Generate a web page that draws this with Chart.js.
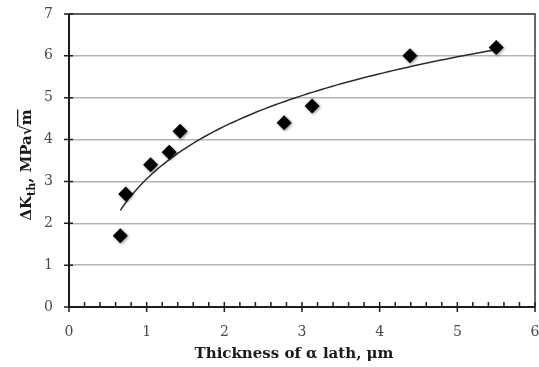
<!DOCTYPE html>
<html>
<head>
<meta charset="utf-8">
<script src="https://cdn.jsdelivr.net/npm/chart.js@4.4.0/dist/chart.umd.min.js"></script>
<style>
  html, body { margin: 0; padding: 0; background: #fff; }
  #wrap { width: 539px; height: 367px; }
</style>
</head>
<body>
<div id="wrap"><canvas id="c" width="539" height="367"></canvas></div>
<script>
// Measured threshold values against alpha lath thickness
const thicknessUm = [0.66, 0.73, 1.05, 1.29, 1.43, 2.77, 3.13, 4.39, 5.50];
const deltaKth    = [1.7, 2.7, 3.4, 3.7, 4.2, 4.4, 4.8, 6.0, 6.2];

const xTickLabels = ['0', '1', '2', '3', '4', '5', '6'];
const yTickLabels = ['0', '1', '2', '3', '4', '5', '6', '7'];

const xTitle = 'Thickness of \u03b1 lath, \u03bcm';

const SERIF = '"DejaVu Serif", "Liberation Serif", serif';

// Logarithmic least-squares trendline: y = a ln(x) + b
function logFit(xs, ys) {
  const lx = xs.map(Math.log);
  const n = xs.length;
  const mx = lx.reduce((s, v) => s + v, 0) / n;
  const my = ys.reduce((s, v) => s + v, 0) / n;
  let sxy = 0, sxx = 0;
  for (let i = 0; i < n; i++) {
    sxy += (lx[i] - mx) * (ys[i] - my);
    sxx += (lx[i] - mx) * (lx[i] - mx);
  }
  const a = sxy / sxx;
  return { a, b: my - a * mx };
}
const fit = logFit(thicknessUm, deltaKth);
const xMin = Math.min(...thicknessUm), xMax = Math.max(...thicknessUm);
const trend = [];
for (let i = 0; i <= 80; i++) {
  const x = xMin + (xMax - xMin) * i / 80;
  trend.push({ x, y: fit.a * Math.log(x) + fit.b });
}

const points = thicknessUm.map((x, i) => ({ x, y: deltaKth[i] }));

// Frame, axis lines, tick marks and axis titles
const axisDecor = {
  id: 'axisDecor',
  beforeDatasetsDraw(chart) {
    const { ctx, chartArea: ca, scales } = chart;
    const xs = scales.x, ys = scales.y;
    ctx.save();
    // outer frame (top / right)
    ctx.strokeStyle = '#3a3a3a';
    ctx.lineWidth = 1.5;
    ctx.beginPath();
    ctx.moveTo(ca.left, ca.top);
    ctx.lineTo(ca.right, ca.top);
    ctx.lineTo(ca.right, ca.bottom);
    ctx.stroke();
    // axis lines
    ctx.strokeStyle = '#1e1e1e';
    ctx.lineWidth = 2;
    ctx.beginPath();
    ctx.moveTo(ca.left, ca.top);
    ctx.lineTo(ca.left, ca.bottom);
    ctx.lineTo(ca.right, ca.bottom);
    ctx.stroke();
    // x ticks: majors cross the axis, minors inside
    ctx.lineWidth = 1.5;
    ctx.beginPath();
    for (let k = 0; k <= 30; k++) {
      const px = xs.getPixelForValue(k * 0.2);
      if (k % 5 === 0) {
        ctx.moveTo(px, ca.bottom - 5);
        ctx.lineTo(px, ca.bottom + 5);
      } else {
        ctx.moveTo(px, ca.bottom - 5);
        ctx.lineTo(px, ca.bottom);
      }
    }
    // y ticks
    for (let v = 0; v <= 7; v++) {
      const py = ys.getPixelForValue(v);
      ctx.moveTo(ca.left - 5, py);
      ctx.lineTo(ca.left + 4, py);
    }
    ctx.stroke();
    ctx.restore();
  },
  afterDraw(chart) {
    const { ctx } = chart;
    ctx.save();
    ctx.fillStyle = '#1a1a1a';
    // x title
    ctx.font = 'bold 15px ' + SERIF;
    ctx.textAlign = 'center';
    ctx.textBaseline = 'alphabetic';
    ctx.fillText(xTitle, 294, 358);

    // y title: ΔK with subscript "th", then ", MPa√m" with overbar
    const big = 'bold 15px ' + SERIF;
    const small = 'bold 11px ' + SERIF;
    const parts = [
      { t: '\u0394K', f: big, dy: 0 },
      { t: 'th', f: small, dy: 4 },
      { t: ', MPa\u221a', f: big, dy: 0 },
      { t: 'm', f: big, dy: 0, bar: true }
    ];
    let total = 0;
    parts.forEach(p => { ctx.font = p.f; p.w = ctx.measureText(p.t).width; total += p.w; });
    ctx.translate(31, 165);
    ctx.rotate(-Math.PI / 2);
    let cx = -total / 2;
    ctx.textAlign = 'left';
    parts.forEach(p => {
      ctx.font = p.f;
      ctx.fillText(p.t, cx, p.dy);
      if (p.bar) {
        ctx.fillRect(cx - 1, -14, p.w + 1, 1.3);
      }
      cx += p.w;
    });
    ctx.restore();
  }
};

// Soft drop shadow under the diamond markers
const markerShadow = {
  id: 'markerShadow',
  beforeDatasetDraw(chart, args) {
    if (args.index !== 0) return;
    const ctx = chart.ctx;
    ctx.save();
    ctx.shadowColor = 'rgba(0,0,0,0.45)';
    ctx.shadowBlur = 3;
    ctx.shadowOffsetX = 1;
    ctx.shadowOffsetY = 1;
  },
  afterDatasetDraw(chart, args) {
    if (args.index !== 0) return;
    chart.ctx.restore();
  }
};

function noPad(scale) {
  scale.paddingTop = 0;
  scale.paddingBottom = 0;
  scale.paddingLeft = 0;
  scale.paddingRight = 0;
}

new Chart(document.getElementById('c'), {
  type: 'scatter',
  data: {
    datasets: [
      {
        label: 'data',
        data: points,
        pointStyle: 'rectRot',
        pointRadius: 7.5,
        pointHoverRadius: 7.5,
        backgroundColor: '#000',
        borderColor: '#000',
        borderWidth: 0,
        order: 1
      },
      {
        label: 'trend',
        type: 'line',
        data: trend,
        borderColor: '#2b2b2b',
        borderWidth: 1.5,
        pointRadius: 0,
        fill: false,
        tension: 0,
        order: 2
      }
    ]
  },
  options: {
    responsive: false,
    animation: false,
    events: [],
    layout: { autoPadding: false, padding: { top: 14, right: 4, left: 0, bottom: 0 } },
    plugins: { legend: { display: false }, tooltip: { enabled: false } },
    scales: {
      x: {
        type: 'linear',
        min: 0, max: 6,
        afterFit(scale) { scale.height = 60; noPad(scale); },
        grid: { display: true, drawOnChartArea: false, drawTicks: false, color: 'rgba(0,0,0,0)' },
        border: { display: false },
        ticks: {
          stepSize: 1,
          padding: 17,
          color: '#4a4a4a',
          font: { family: SERIF, size: 14 },
          callback: (v) => xTickLabels[v] ?? ''
        }
      },
      y: {
        type: 'linear',
        min: 0, max: 7,
        afterFit(scale) { scale.width = 69; noPad(scale); },
        grid: { display: true, drawTicks: false, color: '#b4b4b4', lineWidth: 1.5 },
        border: { display: false },
        ticks: {
          stepSize: 1,
          padding: 16,
          color: '#4a4a4a',
          font: { family: SERIF, size: 14 },
          callback: (v) => yTickLabels[v] ?? ''
        }
      }
    }
  },
  plugins: [axisDecor, markerShadow]
});
</script>
</body>
</html>
